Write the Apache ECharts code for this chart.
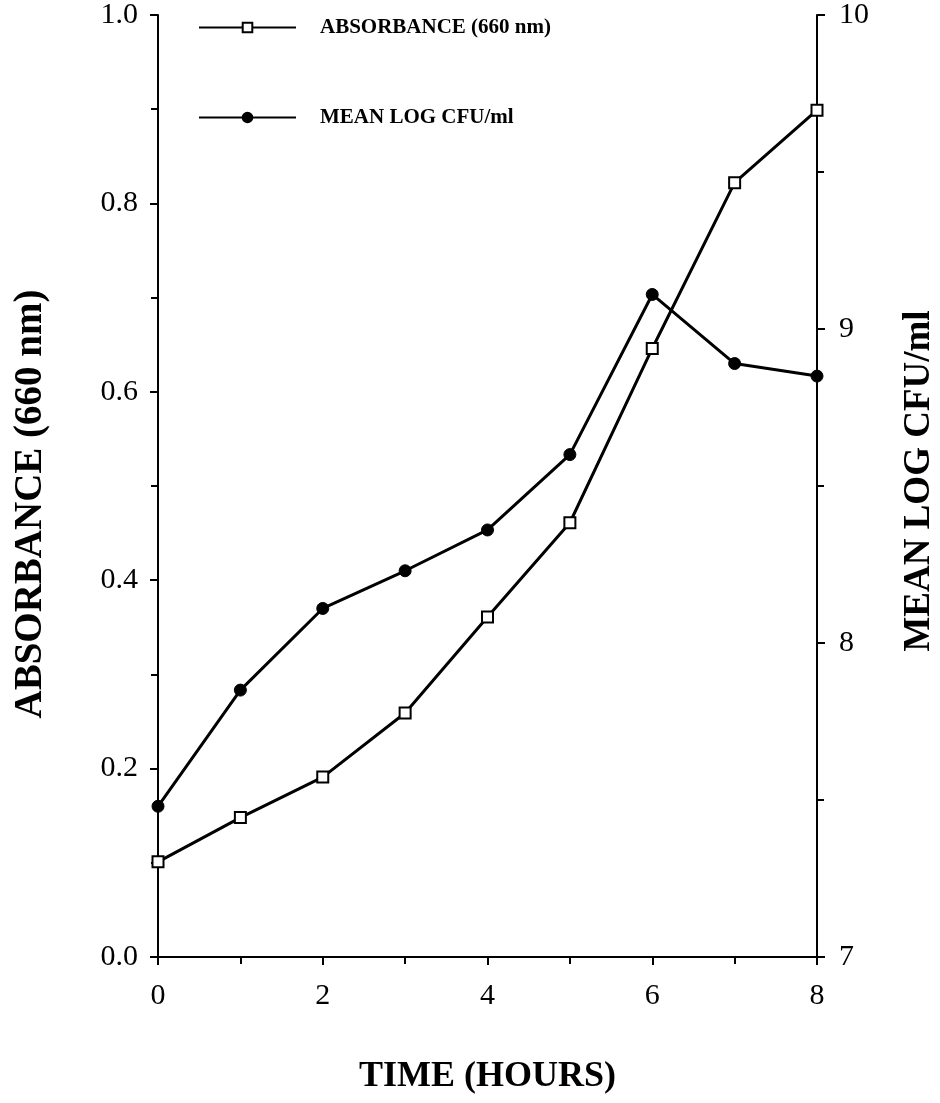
<!DOCTYPE html>
<html><head><meta charset="utf-8">
<script src="https://cdn.jsdelivr.net/npm/echarts@6/dist/echarts.min.js"></script>
<style>html,body{margin:0;padding:0;background:#fff}#c{width:940px;height:1103px}</style>
</head><body><div id="c"></div>
<script>
var hours = [0, 1, 2, 3, 4, 5, 6, 7, 8];
var absorbance = [0.101, 0.148, 0.191, 0.259, 0.361, 0.461, 0.646, 0.822, 0.899];
var meanLogCfu = [7.48, 7.85, 8.11, 8.23, 8.36, 8.60, 9.11, 8.89, 8.85];
var seriesNames = ['ABSORBANCE (660 nm)', 'MEAN LOG CFU/ml'];
var axisTitles = ['TIME (HOURS)', 'ABSORBANCE (660 nm)', 'MEAN LOG CFU/ml'];

var serif = '"Liberation Serif","DejaVu Serif",serif';
var chart = echarts.init(document.getElementById('c'));
function pairs(xs, ys){ return xs.map(function(x,i){return [x, ys[i]];}); }
var axisLine = {lineStyle:{color:'#000', width:2}};
var tick = {show:true, length:8, lineStyle:{color:'#000', width:2}};
var minor = {show:true, splitNumber:2, length:7, lineStyle:{color:'#000', width:2}};
var lbl = {color:'#000', fontFamily:serif, fontSize:30};
chart.setOption({
  animation:false,
  backgroundColor:'#fff',
  grid:{left:158, right:123, top:15, bottom:146, containLabel:false, outerBoundsMode:'none'},
  legend:{
    orient:'vertical', left:193, top:12, itemWidth:97, itemHeight:12, itemGap:69,
    textStyle:{color:'#000', fontFamily:serif, fontWeight:'bold', fontSize:21, padding:[0,0,0,19]},
    data:seriesNames
  },
  xAxis:{
    type:'value', min:0, max:8, interval:2,
    name:axisTitles[0], nameLocation:'middle', nameGap:102,
    nameTextStyle:{color:'#000', fontFamily:serif, fontWeight:'bold', fontSize:36},
    axisLine:axisLine, axisTick:tick, minorTick:minor, splitLine:{show:false},
    axisLabel:Object.assign({margin:24}, lbl)
  },
  yAxis:[{
    type:'value', min:0, max:1, interval:0.2, position:'left',
    name:axisTitles[1], nameLocation:'middle', nameGap:108, nameRotate:90,
    nameTextStyle:{color:'#000', fontFamily:serif, fontWeight:'bold', fontSize:39, padding:[0,36,0,0]},
    axisLine:Object.assign({show:true}, axisLine), axisTick:tick, minorTick:minor, splitLine:{show:false},
    axisLabel:Object.assign({margin:20, formatter:function(v){return v.toFixed(1);}}, lbl)
  },{
    type:'value', min:7, max:10, interval:1, position:'right',
    name:axisTitles[2], nameLocation:'middle', nameGap:84, nameRotate:90,
    nameTextStyle:{color:'#000', fontFamily:serif, fontWeight:'bold', fontSize:37, padding:[0,0,0,10]},
    axisLine:Object.assign({show:true}, axisLine), axisTick:tick, minorTick:minor, splitLine:{show:false},
    axisLabel:Object.assign({margin:22}, lbl)
  }],
  series:[{
    name:seriesNames[0], type:'line', yAxisIndex:0, data:pairs(hours, absorbance),
    symbol:'rect', symbolSize:11, showAllSymbol:true,
    lineStyle:{color:'#000', width:3},
    itemStyle:{color:'#fff', borderColor:'#000', borderWidth:2}
  },{
    name:seriesNames[1], type:'line', yAxisIndex:1, data:pairs(hours, meanLogCfu),
    symbol:'circle', symbolSize:12, showAllSymbol:true,
    lineStyle:{color:'#000', width:3},
    itemStyle:{color:'#000', borderColor:'#000', borderWidth:1}
  }]
});
</script></body></html>
